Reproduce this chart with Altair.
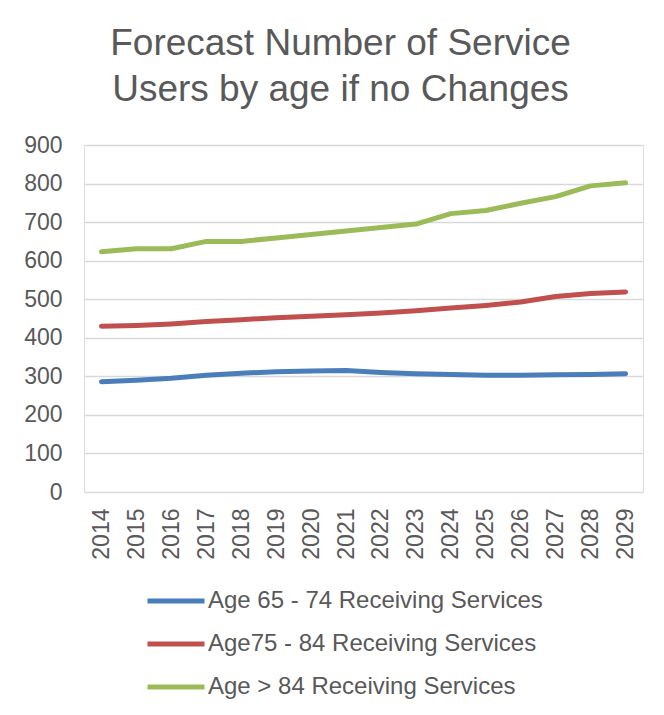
import altair as alt
import pandas as pd

years = [str(y) for y in range(2014, 2030)]
series_names = ["Age 65 - 74 Receiving Services",
                "Age75 - 84 Receiving Services",
                "Age > 84 Receiving Services"]
age_65_74 = [286, 290, 295, 303, 308, 312, 314, 315, 310, 307, 305, 303, 303, 304, 305, 307]
age_75_84 = [430, 432, 436, 442, 447, 452, 456, 460, 464, 470, 477, 484, 493, 507, 515, 519]
age_85_up = [623, 631, 631, 650, 650, 659, 668, 677, 686, 695, 722, 730, 749, 766, 794, 802]
colors = ["#4A7EBB", "#C0504D", "#9BBB59"]

rows = []
for name, vals in zip(series_names, [age_65_74, age_75_84, age_85_up]):
    for y, v in zip(years, vals):
        rows.append({"Year": y, "Series": name, "Value": v})
df = pd.DataFrame(rows)

font = "Liberation Sans"
text_color = "#595959"

chart = alt.Chart(df).mark_line(strokeWidth=5, strokeCap="round", strokeJoin="round").encode(
    x=alt.X("Year:O", title=None, sort=years,
            scale=alt.Scale(type="point", padding=0.5),
            axis=alt.Axis(labelAngle=270, labelFontSize=23, labelColor=text_color,
                          labelFont=font, ticks=False, tickSize=0, labelPadding=16,
                          domain=False, grid=False)),
    y=alt.Y("Value:Q", title=None, scale=alt.Scale(domain=[0, 900], nice=False),
            axis=alt.Axis(values=list(range(0, 1000, 100)), labelFontSize=23,
                          labelColor=text_color, labelFont=font, ticks=False, tickSize=0,
                          labelPadding=22, domain=False, gridColor="#D9D9D9",
                          gridWidth=1.3)),
    color=alt.Color("Series:N", sort=series_names,
                    scale=alt.Scale(domain=series_names, range=colors),
                    legend=alt.Legend(title=None, orient="none", legendX=61, legendY=425,
                                      direction="vertical", symbolType="stroke",
                                      symbolSize=3249, symbolStrokeWidth=5,
                                      labelFontSize=24, labelColor=text_color,
                                      labelFont=font, labelOffset=1, rowPadding=-1,
                                      labelLimit=600)),
).properties(
    width=559, height=347,
    title=alt.TitleParams(["Forecast Number of Service", "Users by age if no Changes"],
                          fontSize=37, font=font, color=text_color, fontWeight="normal",
                          anchor="middle", dx=-23, offset=25, lineHeight=46),
    padding={"left": 76, "top": 137, "right": 13, "bottom": 215},
    autosize=alt.AutoSizeParams(type="none"),
).configure_view(stroke=None).configure(background="white")

chart.save("out.html", embed_options={"renderer": "svg", "actions": False})
